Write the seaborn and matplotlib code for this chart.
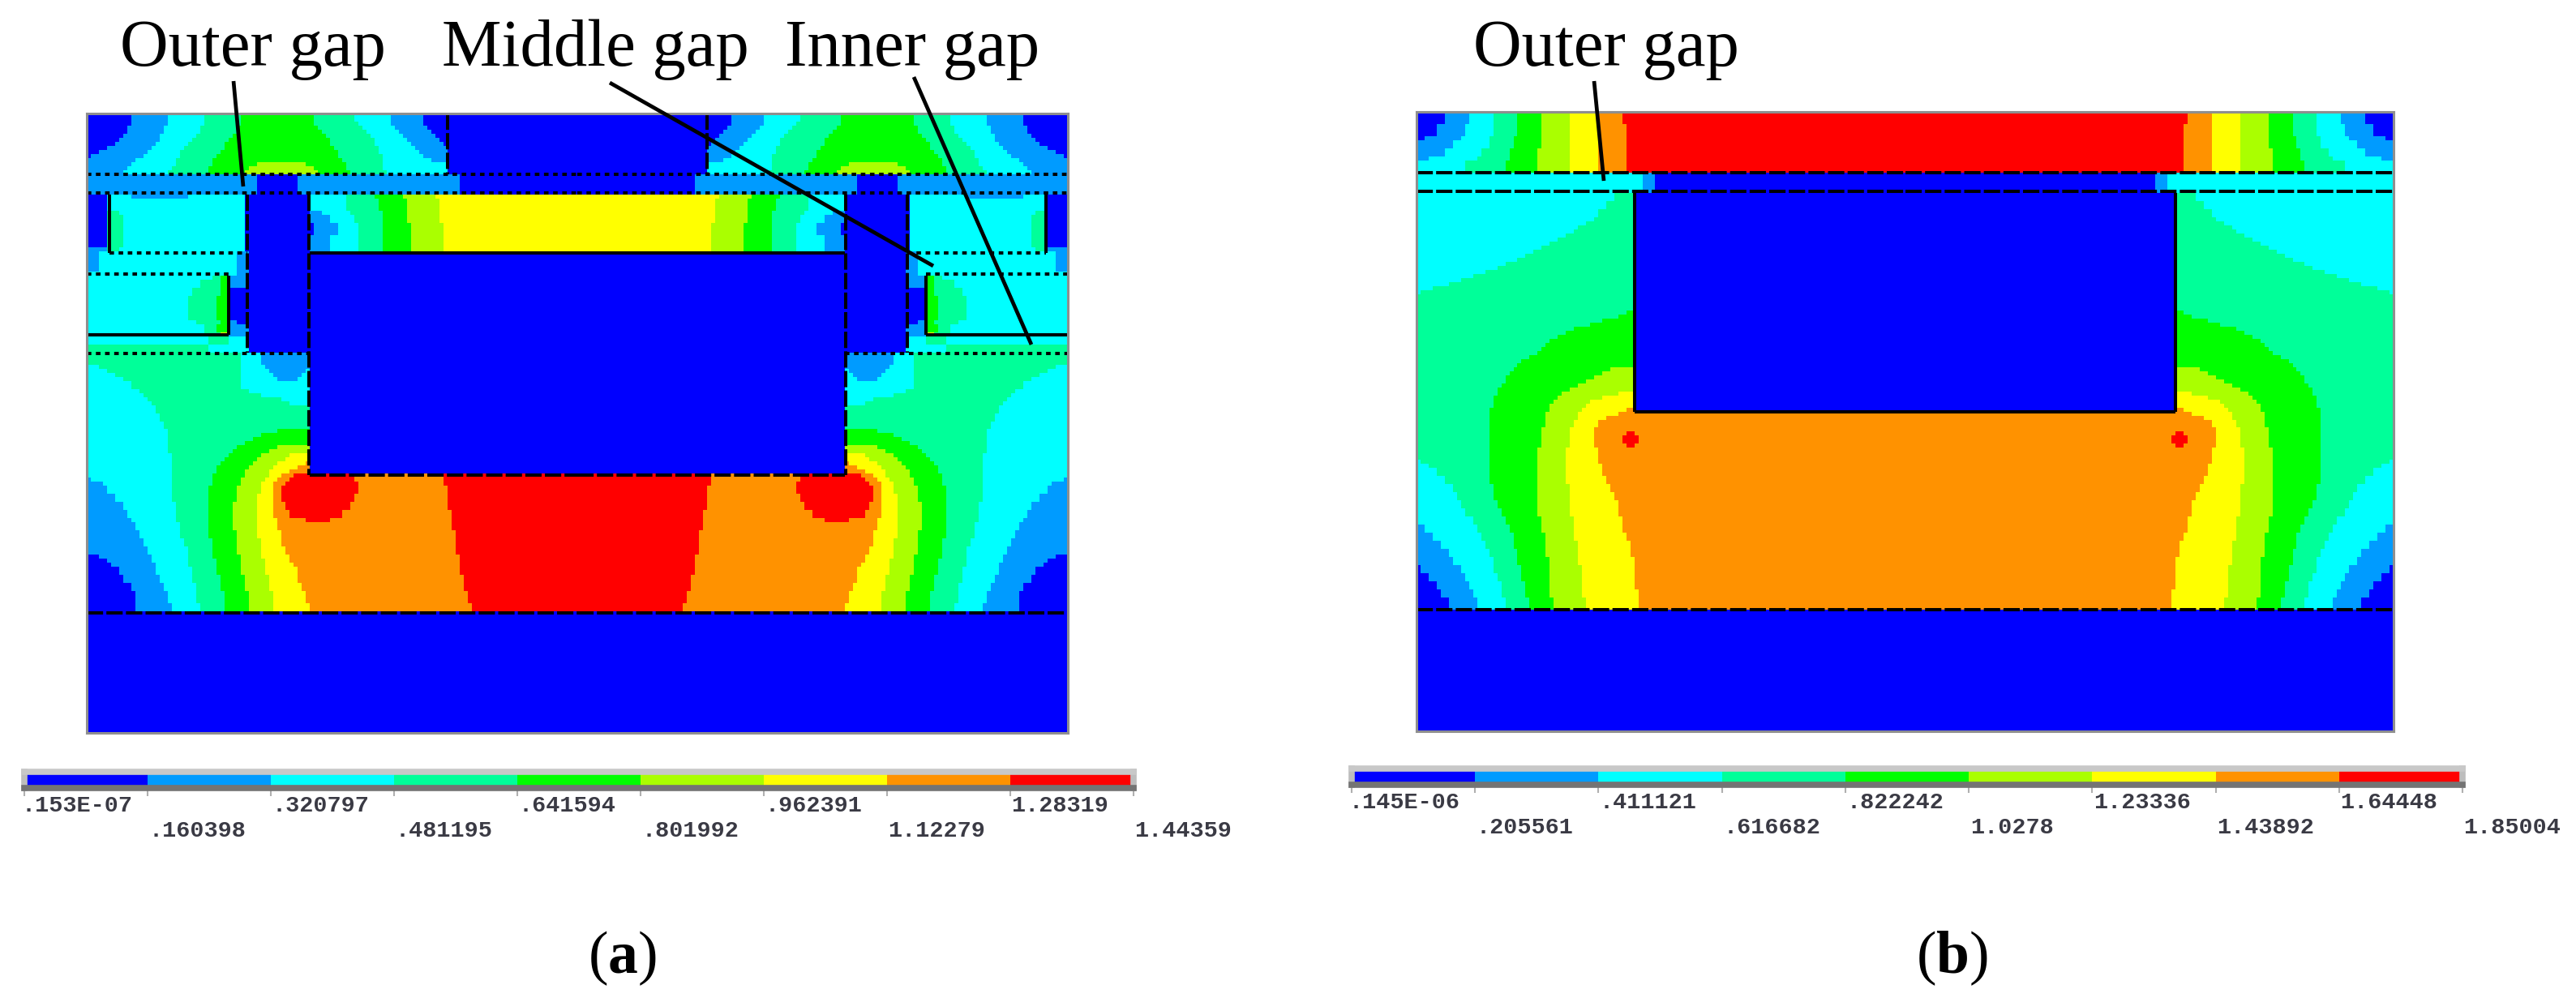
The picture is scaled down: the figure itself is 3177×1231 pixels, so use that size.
import numpy as np
import seaborn as sns
import matplotlib
matplotlib.use("Agg")
import matplotlib.pyplot as plt
from matplotlib.colors import ListedColormap

# nine flux density bands, lowest to highest
BAND_COLORS = ["#0000ff", "#009bff", "#00ffff", "#00ff99", "#00ff00",
               "#aaff00", "#ffff00", "#ff9200", "#ff0000"]

LABELS_A = [".153E-07", ".160398", ".320797", ".481195", ".641594",
            ".801992", ".962391", "1.12279", "1.28319", "1.44359"]
LABELS_B = [".145E-06", ".205561", ".411121", ".616682", ".822242",
            "1.0278", "1.23336", "1.43892", "1.64448", "1.85004"]

# left half of each plot, the right half is its mirror image
# (rows to repeat, "band:end column ...")
FIELD_A = [
    (2, "0:11 1:20 2:29 3:38 4:56 3:66 2:75 1:83 0:121"),
    (1, "0:11 1:20 2:29 3:38 4:56 3:67 2:75 1:83 0:121"),
    (1, "0:10 1:19 2:28 3:37 4:57 3:68 2:76 1:84 0:121"),
    (1, "0:10 1:19 2:28 3:37 4:58 3:69 2:77 1:85 0:121"),
    (1, "0:9 1:18 2:27 3:36 4:59 3:70 2:78 1:86 0:121"),
    (1, "0:8 1:18 2:26 3:35 4:60 3:71 2:79 1:87 0:121"),
    (1, "0:7 1:17 2:25 3:34 4:60 3:71 2:80 1:88 0:121"),
    (1, "0:5 1:16 2:24 3:34 4:61 3:72 2:81 1:89 0:121"),
    (1, "0:3 1:15 2:23 3:33 4:62 3:72 2:82 1:89 0:121"),
    (1, "0:1 1:14 2:23 3:32 4:62 3:73 2:83 1:89 0:121"),
    (1, "1:12 2:22 3:31 4:63 3:73 2:85 1:89 0:121"),
    (1, "1:11 2:22 3:31 4:42 5:54 4:64 3:73 2:89 0:121"),
    (1, "1:10 2:21 3:30 4:40 5:56 4:64 3:73 2:89 0:121"),
    (1, "1:9 2:20 3:30 4:39 5:57 4:65 3:74 2:89 0:121"),
    (5, "1:42 0:52 1:92 0:121"),
    (1, "0:5 2:11 1:25 2:39 0:55 2:64 3:71 4:78 5:86 6:121"),
    (3, "0:5 2:39 0:55 2:64 3:72 4:79 5:87 6:121"),
    (1, "0:5 3:8 2:39 0:55 1:58 2:65 3:73 4:79 5:87 6:121"),
    (2, "0:5 3:9 2:39 0:55 1:60 2:66 3:73 4:79 5:87 6:121"),
    (3, "0:5 3:9 2:39 0:56 1:62 2:67 3:73 4:80 5:88 6:121"),
    (3, "0:5 3:9 2:39 0:55 1:60 2:67 3:73 4:80 5:88 6:121"),
    (1, "1:5 3:8 2:39 0:55 1:60 2:67 3:73 4:80 5:88 6:121"),
    (5, "1:3 2:37 1:40 0:121"),
    (1, "2:37 1:40 0:121"),
    (1, "2:31 3:33 4:35 1:40 0:121"),
    (2, "2:28 3:33 4:35 1:40 0:121"),
    (2, "2:26 3:33 4:35 0:121"),
    (6, "2:25 3:32 4:35 0:121"),
    (1, "2:27 3:33 4:35 1:37 0:121"),
    (2, "2:29 3:32 4:35 1:40 0:121"),
    (1, "2:29 3:33 6:35 1:40 0:121"),
    (2, "2:30 3:35 2:40 0:121"),
    (2, "3:30 2:40 0:121"),
    (3, "3:38 2:43 1:55 0:121"),
    (1, "2:3 3:38 2:44 1:55 0:121"),
    (1, "2:5 3:38 2:45 1:54 2:55 0:121"),
    (1, "2:7 3:38 2:46 1:53 2:55 0:121"),
    (1, "2:9 3:38 2:47 1:52 2:55 0:121"),
    (2, "2:11 3:38 2:55 0:121"),
    (1, "2:13 3:40 2:55 0:121"),
    (1, "2:14 3:43 2:55 0:121"),
    (1, "2:15 3:48 2:55 0:121"),
    (1, "2:16 3:50 2:55 0:121"),
    (2, "2:17 3:55 0:121"),
    (2, "2:18 3:55 0:121"),
    (2, "2:19 3:55 0:121"),
    (1, "2:20 3:47 4:55 0:121"),
    (1, "2:20 3:43 4:55 0:121"),
    (1, "2:20 3:41 4:55 0:121"),
    (1, "2:20 3:39 4:55 0:121"),
    (1, "2:20 3:37 4:47 5:55 0:121"),
    (1, "2:20 3:36 4:45 5:55 0:121"),
    (1, "2:21 3:35 4:43 5:50 6:55 0:121"),
    (1, "2:21 3:34 4:42 5:49 6:55 0:121"),
    (1, "2:21 3:33 4:41 5:47 6:54 7:55 0:121"),
    (1, "2:21 3:32 4:40 5:46 6:52 7:55 0:121"),
    (1, "2:21 3:32 4:39 5:45 6:50 7:55 0:121"),
    (1, "2:21 3:31 4:39 5:45 6:48 7:51 8:66 7:88 8:121"),
    (1, "1:1 2:21 3:31 4:38 5:44 6:47 7:50 8:66 7:88 8:121"),
    (1, "1:4 2:21 3:31 4:38 5:43 6:46 7:49 8:67 7:88 8:121"),
    (2, "1:5 2:21 3:30 4:37 5:43 6:46 7:48 8:67 7:89 8:121"),
    (2, "1:7 2:21 3:30 4:37 5:42 6:46 7:48 8:66 7:89 8:121"),
    (2, "1:9 2:22 3:30 4:36 5:42 6:46 7:49 8:65 7:89 8:121"),
    (2, "1:10 2:22 3:30 4:36 5:42 6:46 7:50 8:63 7:90 8:121"),
    (1, "1:11 2:22 3:30 4:36 5:42 6:47 7:54 8:60 7:90 8:121"),
    (2, "1:12 2:23 3:30 4:36 5:42 6:47 7:90 8:121"),
    (2, "1:13 2:23 3:30 4:37 5:42 6:48 7:91 8:121"),
    (2, "1:14 2:24 3:31 4:37 5:43 6:48 7:91 8:121"),
    (2, "1:15 2:25 3:31 4:37 5:43 6:49 7:91 8:121"),
    (1, "0:3 1:16 2:25 3:31 4:38 5:43 6:50 7:92 8:121"),
    (1, "0:5 1:16 2:25 3:32 4:38 5:44 6:50 7:92 8:121"),
    (1, "0:6 1:17 2:25 3:32 4:38 5:44 6:51 7:92 8:121"),
    (2, "0:8 1:17 2:26 3:32 4:38 5:44 6:52 7:92 8:121"),
    (2, "0:9 1:18 2:26 3:33 4:39 5:45 6:52 7:93 8:121"),
    (2, "0:11 1:19 2:27 3:33 4:39 5:45 6:53 7:93 8:121"),
    (3, "0:12 1:20 2:27 3:34 4:40 5:46 6:54 7:94 8:121"),
    (2, "0:12 1:21 2:28 3:34 4:40 5:46 6:55 7:95 8:121"),
    (30, "0:121"),
]

FIELD_B = [
    (3, "0:7 1:13 2:19 3:25 4:31 5:38 6:45 7:51 8:121"),
    (3, "0:5 1:12 2:19 3:25 4:31 5:38 6:45 7:52 8:121"),
    (1, "0:2 1:11 2:18 3:24 4:31 5:38 6:45 7:52 8:121"),
    (2, "1:9 2:18 3:24 4:31 5:38 6:45 7:52 8:121"),
    (2, "1:7 2:16 3:23 4:30 5:38 6:45 7:52 8:121"),
    (1, "1:3 2:15 3:23 4:30 5:38 6:45 7:52 8:121"),
    (3, "2:12 3:22 4:30 5:38 6:45 7:52 8:121"),
    (5, "2:56 1:59 0:121"),
    (2, "2:49 3:54 0:121"),
    (2, "2:47 3:54 0:121"),
    (2, "2:45 3:54 0:121"),
    (1, "2:44 3:54 0:121"),
    (1, "2:42 3:54 0:121"),
    (1, "2:40 3:54 0:121"),
    (1, "2:39 3:54 0:121"),
    (1, "2:37 3:54 0:121"),
    (1, "2:35 3:54 0:121"),
    (1, "2:33 3:54 0:121"),
    (1, "2:31 3:54 0:121"),
    (1, "2:29 3:54 0:121"),
    (1, "2:27 3:54 0:121"),
    (1, "2:25 3:54 0:121"),
    (1, "2:22 3:54 0:121"),
    (1, "2:20 3:54 0:121"),
    (1, "2:17 3:54 0:121"),
    (1, "2:14 3:54 0:121"),
    (1, "2:11 3:54 0:121"),
    (1, "2:8 3:54 0:121"),
    (1, "2:4 3:54 0:121"),
    (1, "2:1 3:54 0:121"),
    (4, "3:54 0:121"),
    (1, "3:52 4:54 0:121"),
    (1, "3:50 4:54 0:121"),
    (1, "3:46 4:54 0:121"),
    (1, "3:43 4:54 0:121"),
    (1, "3:39 4:54 0:121"),
    (1, "3:37 4:54 0:121"),
    (1, "3:35 4:54 0:121"),
    (1, "3:33 4:54 0:121"),
    (1, "3:32 4:54 0:121"),
    (1, "3:31 4:54 0:121"),
    (1, "3:30 4:54 0:121"),
    (1, "3:28 4:54 0:121"),
    (1, "3:26 4:54 0:121"),
    (1, "3:25 4:54 0:121"),
    (1, "3:24 4:48 5:54 0:121"),
    (1, "3:23 4:46 5:54 0:121"),
    (1, "3:22 4:44 5:54 0:121"),
    (1, "3:22 4:42 5:54 0:121"),
    (1, "3:21 4:40 5:54 0:121"),
    (1, "3:20 4:38 5:54 0:121"),
    (1, "3:20 4:36 5:50 6:54 0:121"),
    (1, "3:19 4:35 5:46 6:54 0:121"),
    (1, "3:19 4:34 5:43 6:54 0:121"),
    (1, "3:19 4:33 5:42 6:54 0:121"),
    (1, "3:18 4:33 5:41 6:52 7:54 0:121"),
    (1, "3:18 4:32 5:40 6:50 7:121"),
    (1, "3:18 4:32 5:40 6:47 7:121"),
    (2, "3:18 4:32 5:39 6:45 7:121"),
    (1, "3:18 4:31 5:38 6:44 7:121"),
    (1, "3:18 4:31 5:38 6:44 7:52 8:54 7:121"),
    (2, "3:18 4:31 5:38 6:44 7:51 8:55 7:121"),
    (1, "3:18 4:31 5:38 6:44 7:52 8:54 7:121"),
    (3, "3:18 4:30 5:37 6:45 7:121"),
    (1, "2:1 3:18 4:30 5:37 6:45 7:121"),
    (1, "2:3 3:18 4:30 5:37 6:46 7:121"),
    (2, "2:5 3:18 4:30 5:37 6:46 7:121"),
    (2, "2:7 3:18 4:30 5:37 6:47 7:121"),
    (2, "2:9 3:19 4:30 5:38 6:48 7:121"),
    (2, "2:10 3:19 4:30 5:38 6:49 7:121"),
    (2, "2:11 3:20 4:30 5:38 6:50 7:121"),
    (2, "2:12 3:21 4:30 5:38 6:50 7:121"),
    (2, "2:14 3:22 4:31 5:39 6:51 7:121"),
    (2, "1:2 2:15 3:23 4:31 5:39 6:51 7:121"),
    (2, "1:4 2:16 3:24 4:32 5:39 6:52 7:121"),
    (2, "1:6 2:17 3:24 4:32 5:40 6:53 7:121"),
    (2, "1:8 2:18 3:25 4:32 5:40 6:53 7:121"),
    (2, "1:9 2:19 3:25 4:33 5:40 6:54 7:121"),
    (2, "0:1 1:11 2:19 3:26 4:33 5:41 6:54 7:121"),
    (2, "0:3 1:12 2:20 3:26 4:33 5:41 6:54 7:121"),
    (2, "0:5 1:13 2:21 3:27 4:33 5:41 6:54 7:121"),
    (2, "0:6 1:14 2:21 3:27 4:33 5:41 6:55 7:121"),
    (3, "0:8 1:15 2:22 3:28 4:34 5:42 6:55 7:121"),
    (30, "0:121"),
]

# model outlines in grid units, (row, first column, last column) for h,
# (column, first row, last row) for v
A_H_DOTTED = [(15, 0, 121), (19.7, 0, 121), (34.5, 5.5, 39.6), (39.7, 0, 35), (59.2, 0, 55)]
A_H_SOLID = [(34.5, 55, 121), (54.7, 0, 35)]
A_H_DASHED = [(89.3, 55, 121), (123.3, 0, 121)]
A_V_SOLID = [(5.5, 20, 34.5), (35, 40, 54.7)]
A_V_DASHED = [(39.6, 20, 59), (54.8, 20, 89.3), (89, 0, 15)]
B_H_SOLID = [(74, 54, 121)]
B_H_DASHED = [(15, 0, 121), (19.7, 0, 121), (122.9, 0, 121)]
B_V_SOLID = [(54, 20, 74)]
B_V_DASHED = []

BAR_POS_A = (30, 952, 1398, 972)
BAR_POS_B = (1667, 948, 3037, 968)


def field_grid(rows):
    out = []
    for n, runs in rows:
        row = np.zeros(121, dtype=int)
        start = 0
        for part in runs.split():
            band, end = part.split(":")
            row[start:int(end)] = int(band)
            start = int(end)
        out.extend([row] * n)
    half = np.array(out)
    return np.hstack([half, half[:, ::-1]])


def px_axes(fig, x0, y0, x1, y1):
    W, H = 3177, 1231
    return fig.add_axes([x0 / W, 1 - y1 / H, (x1 - x0) / W, (y1 - y0) / H])


def draw_segs(ax, hsegs, vsegs, ls, lw=2.9, color="black"):
    for r, c0, c1 in hsegs:
        ax.hlines(r, c0, c1, color=color, lw=lw, linestyles=ls)
        ax.hlines(r, 242 - c1, 242 - c0, color=color, lw=lw, linestyles=ls)
    for c, r0, r1 in vsegs:
        ax.vlines(c, r0, r1, color=color, lw=lw, linestyles=ls)
        ax.vlines(242 - c, r0, r1, color=color, lw=lw, linestyles=ls)


def draw_field(fig, rows, box, cmap):
    ax = px_axes(fig, *box)
    sns.heatmap(field_grid(rows), cmap=cmap, vmin=-0.5, vmax=8.5, cbar=False,
                xticklabels=False, yticklabels=False, ax=ax)
    for s in ax.spines.values():
        s.set_visible(True)
        s.set_color("#8f8f8f")
        s.set_linewidth(2.2)
    return ax


def draw_bar(fig, box, labels, cmap):
    ax = px_axes(fig, *box)
    sns.heatmap(np.arange(9).reshape(1, 9), cmap=cmap, vmin=-0.5, vmax=8.5, cbar=False,
                xticklabels=False, yticklabels=False, ax=ax)
    ax.set_xticks(range(10))
    ax.set_xticklabels([])
    ax.tick_params(axis="x", length=7, width=1.5, color="#b0b0b0", pad=0, bottom=True)
    for name, col in [("top", "#c8c8c8"), ("bottom", "#747474"), ("left", "#bdbdbd"), ("right", "#bdbdbd")]:
        ax.spines[name].set_visible(True)
        ax.spines[name].set_color(col)
        ax.spines[name].set_linewidth(5.5)
    for i, lab in enumerate(labels):
        y = -1.1 if i % 2 == 0 else -2.65
        ax.text(i + (0.01 if i else -0.02), y, lab, transform=ax.get_xaxis_transform(),
                family="Liberation Mono", fontweight="bold", fontsize=20.5, color="#3a3a44",
                ha="left", va="center")


sns.set_theme(style="white")
plt.rcParams["font.family"] = ["Liberation Serif", "DejaVu Sans"]
plt.rcParams["mathtext.fontset"] = "custom"
plt.rcParams["mathtext.bf"] = "Liberation Serif:bold"
plt.rcParams["mathtext.rm"] = "Liberation Serif"

band_cmap = ListedColormap(BAND_COLORS)
fig = plt.figure(figsize=(31.77, 12.31), dpi=100)

DOTS = (0, (1.4, 1.4))
DASHES = (0, (5.0, 1.0))

ax_a = draw_field(fig, FIELD_A, (107, 140, 1317, 904), band_cmap)
draw_segs(ax_a, A_H_DOTTED, [], DOTS)
draw_segs(ax_a, A_H_SOLID, A_V_SOLID, "solid")
draw_segs(ax_a, A_H_DASHED, A_V_DASHED, DASHES)

ax_b = draw_field(fig, FIELD_B, (1747, 138, 2952, 902), band_cmap)
draw_segs(ax_b, B_H_SOLID, B_V_SOLID, "solid")
draw_segs(ax_b, B_H_DASHED, B_V_DASHED, DASHES)

draw_bar(fig, BAR_POS_A, LABELS_A, band_cmap)
draw_bar(fig, BAR_POS_B, LABELS_B, band_cmap)

# callouts sit on top of everything, in picture pixels
top = fig.add_axes([0, 0, 1, 1], zorder=10)
top.set_xlim(0, 3177)
top.set_ylim(1231, 0)
top.axis("off")
for x0, y0, x1, y1 in [(288, 100, 300, 230), (752, 102, 1151, 328), (1127, 95, 1272, 425), (1966, 100, 1978, 223)]:
    top.plot([x0, x1], [y0, y1], color="black", lw=3.4, solid_capstyle="butt")
for txt, x in [("Outer gap", 148), ("Middle gap", 545), ("Inner gap", 968), ("Outer gap", 1817)]:
    top.text(x, 81, txt, fontsize=59.5, color="black", ha="left", va="baseline")
top.text(767, 1200, r"($\mathbf{a}$)", fontsize=53, color="black", ha="center", va="baseline")
top.text(2407, 1200, r"($\mathbf{b}$)", fontsize=53, color="black", ha="center", va="baseline")

fig.savefig("out.png", dpi=100, facecolor="white")
